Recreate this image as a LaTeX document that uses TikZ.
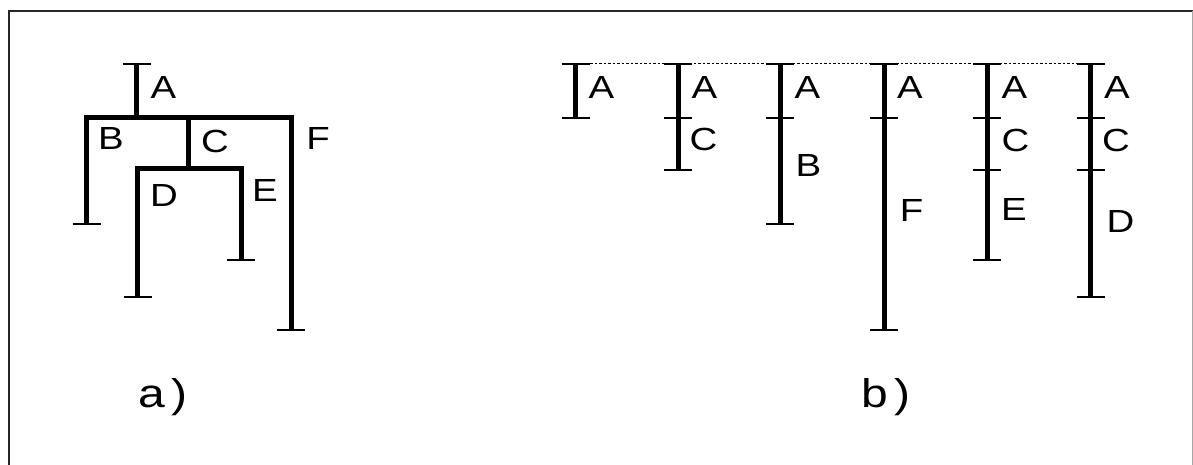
\documentclass[tikz,border=0pt]{standalone}
\usepackage{fontspec}
\setmainfont{Liberation Sans}[FakeStretch=1.2]
\begin{document}
\begin{tikzpicture}[x=1pt,y=-1pt,
  stem/.style={line width=5pt,line join=miter},
  capline/.style={line width=1.8pt},
  tickline/.style={line width=1.5pt},
  lbl/.style={font=\fontsize{32}{32}\selectfont,inner sep=0pt,anchor=center},
  captxt/.style={font=\fontsize{40}{40}\selectfont,inner sep=0pt,anchor=base west},
  frame/.style={line width=2pt,draw=black!85},
  dotline/.style={line width=1pt,dash pattern=on 2.5pt off 2pt,draw=black}]
\useasboundingbox (0,0) rectangle (1193,465);
% frame
\coordinate (fbl) at (9,465);
\coordinate (ftl) at (9,11);
\coordinate (ftr) at (1193,11);
\coordinate (frt) at (1192,11);
\coordinate (frb) at (1192,465);
\draw[frame] (fbl) -- (ftl) -- (ftr);
\draw[line width=1pt,draw=black!35] (frt) -- (frb);

% ---------- a) tree ----------
\coordinate (Atop) at (136.5,64);
\coordinate (Ajoin) at (136.5,118);
\coordinate (Bbot) at (86.5,224);
\coordinate (Fcorner) at (291,118);
\coordinate (Fbot) at (291,330);
\coordinate (Cjoin) at (188,118);
\coordinate (Cbot) at (188,169);
\coordinate (Dbot) at (137.5,297);
\coordinate (Ecorner) at (241,169);
\coordinate (Ebot) at (241,260);
\draw[stem] (Atop) -- (Ajoin);
\draw[stem] (Bbot) |- (Fcorner) -- (Fbot);
\draw[stem] (Cjoin) -- (Cbot);
\draw[stem] (Dbot) |- (Ecorner) -- (Ebot);
\foreach \p in {Atop,Bbot,Fbot,Dbot,Ebot}
  \draw[capline] (\p) ++(-14,0) -- ++(28,0);
\node[lbl] (tA) at (163.5,87) {A};
\node[lbl] (tB) at (111,138) {B};
\node[lbl] (tC) at (215,141) {C};
\node[lbl] (tF) at (318,138) {F};
\node[lbl] (tD) at (164,195) {D};
\node[lbl] (tE) at (265,190) {E};
\node[captxt] (capa) at (138,407) {a\hspace{7pt})};

% ---------- b) stacks ----------
\coordinate (dl) at (563,64);
\coordinate (dr) at (1105,64);
\draw[dotline] (dl) -- (dr);
% bar 1
\coordinate (s1t) at (575.5,64);
\coordinate (s1b) at (575.5,118);
\draw[stem] (s1t) -- (s1b);
% bar 2
\coordinate (s2t) at (678,64);
\coordinate (s2m) at (678,118);
\coordinate (s2b) at (678,170);
\draw[stem] (s2t) -- (s2b);
% bar 3
\coordinate (s3t) at (780,64);
\coordinate (s3m) at (780,118);
\coordinate (s3b) at (780,224);
\draw[stem] (s3t) -- (s3b);
% bar 4
\coordinate (s4t) at (884,64);
\coordinate (s4m) at (884,118);
\coordinate (s4b) at (884,330);
\draw[stem] (s4t) -- (s4b);
% bar 5
\coordinate (s5t) at (987,64);
\coordinate (s5m) at (987,118);
\coordinate (s5n) at (987,170);
\coordinate (s5b) at (987,260);
\draw[stem] (s5t) -- (s5b);
% bar 6
\coordinate (s6t) at (1090.5,64);
\coordinate (s6m) at (1090.5,118);
\coordinate (s6n) at (1090.5,170);
\coordinate (s6b) at (1090.5,297);
\draw[stem] (s6t) -- (s6b);
\foreach \p in {s1t,s1b,s2t,s2b,s3t,s3b,s4t,s4b,s5t,s5b,s6t,s6b}
  \draw[capline] (\p) ++(-14,0) -- ++(28,0);
\foreach \p in {s2m,s3m,s4m,s5m,s5n,s6m,s6n}
  \draw[tickline] (\p) ++(-14,0) -- ++(28,0);
\node[lbl] (l1A) at (601.5,87) {A};
\node[lbl] (l2A) at (704.5,87) {A};
\node[lbl] (l2C) at (703.5,139) {C};
\node[lbl] (l3A) at (807.5,87) {A};
\node[lbl] (l3B) at (808.5,165) {B};
\node[lbl] (l4A) at (910,87) {A};
\node[lbl] (l4F) at (911.5,210) {F};
\node[lbl] (l5A) at (1014.5,87) {A};
\node[lbl] (l5C) at (1015.5,140) {C};
\node[lbl] (l5E) at (1014,209) {E};
\node[lbl] (l6A) at (1117,87) {A};
\node[lbl] (l6C) at (1116,140) {C};
\node[lbl] (l6D) at (1120.5,221) {D};
\node[captxt] (capb) at (861,407) {b\hspace{7pt})};
\end{tikzpicture}
\end{document}
